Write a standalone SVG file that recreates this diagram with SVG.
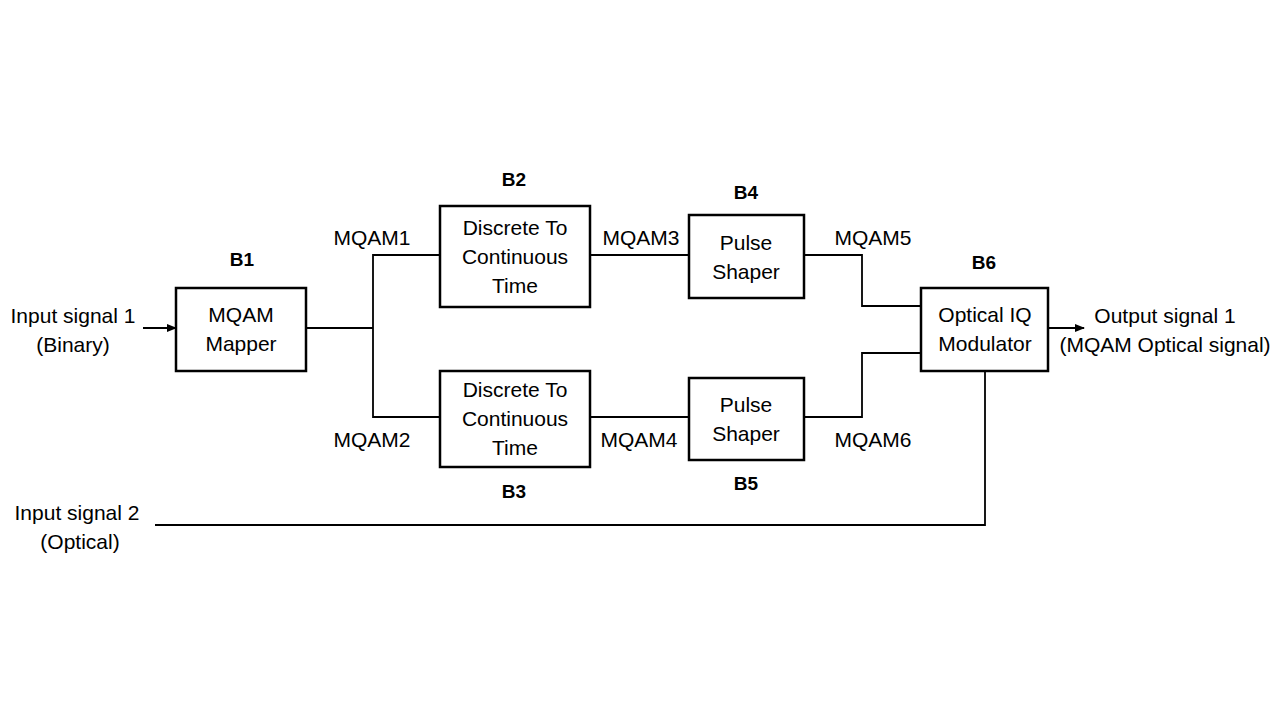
<svg xmlns="http://www.w3.org/2000/svg" width="1280" height="720" viewBox="0 0 1280 720">
<defs>
<marker id="arr" markerWidth="10" markerHeight="8" refX="9" refY="4" orient="auto" markerUnits="userSpaceOnUse">
<path d="M0,0 L10,4 L0,8 Z" fill="#000"/>
</marker>
<style>
.box{fill:#fff;stroke:#000;stroke-width:2.5}
.t{font-family:"Liberation Sans",Arial,sans-serif;font-size:21px;fill:#000;text-anchor:middle}
.b{font-family:"Liberation Sans",Arial,sans-serif;font-size:19px;font-weight:bold;fill:#000;text-anchor:middle}
.c{fill:none;stroke:#000;stroke-width:1.8}
</style>
</defs>
<rect width="1280" height="720" fill="#fff"/>
<g id="connectors">
<line class="c" x1="143" y1="328" x2="176" y2="328" marker-end="url(#arr)"/>
<polyline class="c" points="306,328 373,328"/>
<polyline class="c" points="440,255 373,255 373,417 440,417"/>
<line class="c" x1="590" y1="255" x2="689" y2="255"/>
<line class="c" x1="590" y1="417" x2="689" y2="417"/>
<polyline class="c" points="804,255 862,255 862,306 921,306"/>
<polyline class="c" points="804,417 862,417 862,353 921,353"/>
<polyline class="c" points="985,371 985,525 155,525"/>
<line class="c" x1="1048" y1="328" x2="1084" y2="328" marker-end="url(#arr)"/>
</g>
<g id="input1">
<text class="t" x="73" y="323">Input signal 1</text>
<text class="t" x="73" y="352">(Binary)</text>
</g>
<g id="input2">
<text class="t" x="77" y="520">Input signal 2</text>
<text class="t" x="80" y="549">(Optical)</text>
</g>
<g id="output1">
<text class="t" x="1165" y="323">Output signal 1</text>
<text class="t" x="1165" y="352">(MQAM Optical signal)</text>
</g>
<g id="B1">
<rect class="box" x="176" y="288" width="130" height="83"/>
<text class="t" x="241" y="322">MQAM</text>
<text class="t" x="241" y="351">Mapper</text>
<text class="b" x="242" y="266">B1</text>
</g>
<g id="B2">
<rect class="box" x="440" y="206" width="150" height="101"/>
<text class="t" x="515" y="235">Discrete To</text>
<text class="t" x="515" y="264">Continuous</text>
<text class="t" x="515" y="293">Time</text>
<text class="b" x="514" y="186">B2</text>
</g>
<g id="B3">
<rect class="box" x="440" y="371" width="150" height="96"/>
<text class="t" x="515" y="397">Discrete To</text>
<text class="t" x="515" y="426">Continuous</text>
<text class="t" x="515" y="455">Time</text>
<text class="b" x="514" y="498">B3</text>
</g>
<g id="B4">
<rect class="box" x="689" y="215" width="115" height="83"/>
<text class="t" x="746" y="250">Pulse</text>
<text class="t" x="746" y="279">Shaper</text>
<text class="b" x="746" y="199">B4</text>
</g>
<g id="B5">
<rect class="box" x="689" y="378" width="115" height="82"/>
<text class="t" x="746" y="412">Pulse</text>
<text class="t" x="746" y="441">Shaper</text>
<text class="b" x="746" y="490">B5</text>
</g>
<g id="B6">
<rect class="box" x="921" y="288" width="127" height="83"/>
<text class="t" x="985" y="322">Optical IQ</text>
<text class="t" x="985" y="351">Modulator</text>
<text class="b" x="984" y="269">B6</text>
</g>
<g id="labels">
<text class="t" x="372" y="245">MQAM1</text>
<text class="t" x="372" y="447">MQAM2</text>
<text class="t" x="641" y="245">MQAM3</text>
<text class="t" x="639" y="447">MQAM4</text>
<text class="t" x="873" y="245">MQAM5</text>
<text class="t" x="873" y="447">MQAM6</text>
</g>
</svg>
